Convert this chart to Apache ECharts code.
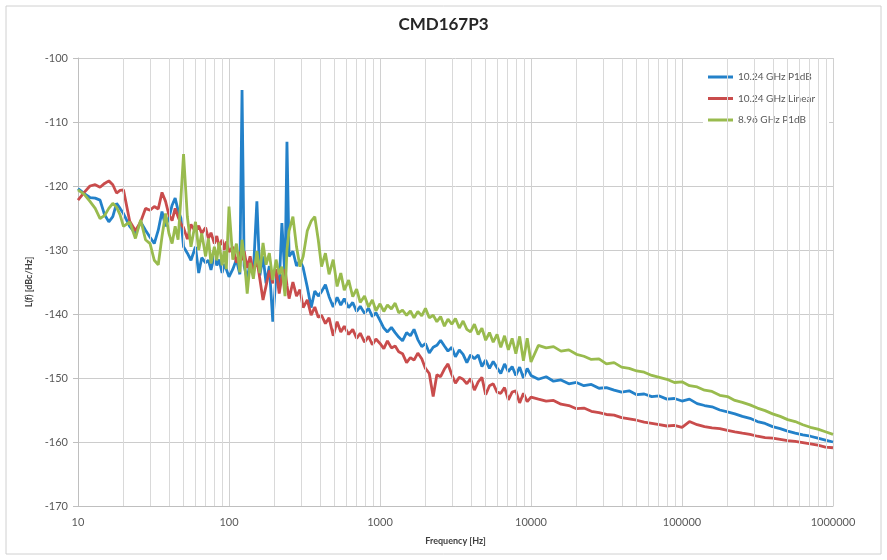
<!DOCTYPE html>
<html lang="en">
<head>
<meta charset="UTF-8">
<style>
    html, body { height: 100%; margin: 0; background: #fff; }
</style>
</head>
<body>
<div id="chart" style="width:887px;height:560px;"></div>
<script src="https://cdn.jsdelivr.net/npm/echarts@6/dist/echarts.min.js"></script>
<script>
    // frequency points [Hz], one decade per line
    var freqHz = [
        10,11,12,13,14,15,16,17,18,19,20,22,24,26,28,30,32,34,36,38,40,42,44,46,48,50,53,56,60,63,66,70,73,76,80,83,86,90,93,96,100,
        106,112,118,122,126,132,138,145,153,160,168,176,185,195,205,215,224,235,242,250,265,280,295,310,330,350,370,390,410,435,460,490,520,550,580,620,660,700,740,790,840,890,940,1000,
        1060,1120,1190,1260,1330,1410,1500,1590,1680,1780,1890,2000,2120,2250,2380,2520,2670,2820,2990,3160,3350,3550,3760,3980,4220,4470,4730,5010,5310,5620,5960,6310,6680,7080,7500,7940,8410,8910,9440,10000,
        11200,12600,14100,15800,17800,20000,22400,25100,28200,31600,35500,39800,44700,50100,56200,63100,70800,79400,89100,100000,
        112000,126000,141000,158000,178000,200000,224000,251000,282000,316000,355000,398000,447000,501000,562000,631000,708000,794000,891000,1000000
    ];

    // L(f) [dBc/Hz]
    var p1dB1024 = [
        -120.4,-121.2,-121.8,-121.9,-122.2,-124.5,-125.6,-124.8,-122.7,-123.5,-124.3,
        -126.3,-127.4,-125.6,-126.9,-128,-129,-126.9,-124,-126.3,-125,-123,-121.9,-123.8,-125,-129.5,
        -130.5,-131.6,-129.5,-133.6,-131.2,-132,-131.6,-133.1,-130.8,-132.4,-131.5,-133.6,-132.2,-133,-134.2,
        -133,-131.5,-133.8,-105,-132.5,-134.6,-131.8,-133.5,-122.4,-134,-131,-135.2,-132.5,-141.2,-133.8,
        -135.5,-125.8,-134.5,-113.1,-131,-130.2,-132.5,-131.6,-132.8,-135.8,-139,-136.4,-137.2,-136.5,-135.4,
        -137.3,-138.9,-137.4,-138.6,-137.6,-139,-138.2,-139.6,-138.8,-139.9,-139.1,-140.4,-139.8,-141,
        -142.2,-142.8,-142.1,-142.9,-143.6,-144.2,-142.9,-143.4,-142.4,-144,-145.1,-144.6,-146.1,-145.2,-144.9,
        -144.1,-145,-145.8,-145.2,-146.7,-145.6,-146.3,-147.6,-146.4,-147,-146.4,-148.2,-147.2,-148.5,-147.4,
        -148.4,-149.3,-147.8,-149,-148.2,-149.6,-148.3,-150,-148.5,-149.6,
        -150.2,-149.8,-150.5,-150.3,-150.9,-150.7,-151.2,-151,-151.6,-151.5,
        -151.9,-152.2,-152,-152.6,-152.5,-152.9,-152.8,-153.3,-153.2,-153.6,
        -153.3,-154,-154.3,-154.5,-155,-155.3,-155.6,-156,-156.3,-156.8,
        -157.1,-157.6,-157.9,-158.3,-158.6,-158.9,-159.1,-159.4,-159.7,-160
    ];
    var linear1024 = [
        -122.2,-121,-120,-119.8,-120.2,-119.6,-119.2,-119.8,-121.1,-120.7,-120.6,
        -125.5,-127,-125.6,-123.5,-123.8,-123.2,-123.6,-121,-122.4,-124.5,-125.4,-123.5,-124.8,-125.9,-126.5,
        -128.3,-126,-127.2,-126.2,-127.4,-126.5,-128.2,-127.3,-129,-127.8,-129.5,-128.4,-130,-128.7,-130.3,
        -129.5,-132,-130.3,-131.6,-130.2,-132.8,-131,-133.4,-131.5,-134.5,-137.8,-135.6,-133.2,-135.2,-133,
        -136.8,-134.2,-133,-135.5,-137.6,-135,-137.2,-136.2,-139,-137.8,-140.2,-138.9,-140.5,-140.2,-141.5,
        -140.6,-143.4,-141.2,-142.8,-141.9,-143.2,-142.4,-143.8,-143,-144.4,-143.5,-144.8,-143.9,-144.6,
        -145.4,-144.2,-145.3,-145,-145.9,-146.2,-147.6,-146.8,-147.2,-146.1,-147,-148.5,-149.3,-152.9,-149.5,
        -149.8,-148.6,-147.8,-149.5,-150.8,-149.9,-150.2,-150.9,-150.1,-151.9,-150.6,-149.9,-152.6,-151.2,-150.9,
        -152.2,-152.4,-151.5,-153.4,-152.2,-152,-153.9,-152.4,-153.7,-153,
        -153.3,-153.6,-153.5,-154.1,-154.3,-154.8,-154.7,-155.2,-155.4,-155.7,
        -155.8,-156.2,-156.4,-156.6,-156.9,-157.1,-157.3,-157.5,-157.4,-157.7,
        -156.8,-157.3,-157.6,-157.8,-157.9,-158.2,-158.4,-158.6,-158.8,-159.1,
        -159.3,-159.4,-159.6,-159.8,-159.9,-160.1,-160.3,-160.5,-160.8,-160.9
    ];
    var p1dB896 = [
        -120.6,-121.3,-122.4,-123.5,-125.1,-124.6,-123.5,-122.7,-123.3,-124.5,-126.3,
        -125.6,-128.2,-125.3,-128.4,-129,-131.6,-132.3,-127.9,-124.3,-127.4,-129,-126.3,-128.4,-122,-115,
        -124.8,-129.5,-125.6,-130,-127.4,-131,-128.2,-132.1,-129.5,-131.6,-128.8,-132.4,-130.2,-133,-123.2,
        -131.5,-129,-133.5,-128.4,-131.2,-136.8,-132,-134.5,-130.2,-133.6,-128.9,-132.3,-130.5,-134.7,-131.5,
        -133.8,-132.6,-137.2,-130,-127,-124.8,-129.5,-132.6,-131,-127,-125.5,-124.8,-128.4,-132.6,-130.5,
        -133.8,-131.5,-135.7,-133.6,-136.3,-134.7,-137.3,-136.1,-138.2,-137.2,-138.9,-137.8,-139.5,-138.4,
        -139.6,-138.6,-139.2,-138.3,-139.8,-139.4,-140.2,-139.5,-140.6,-139.6,-140.3,-139.1,-140.6,-140.2,-141.2,
        -140.4,-141.9,-140.8,-141.6,-140.7,-142.2,-141.1,-142.4,-142.8,-141.6,-143.2,-142.2,-144.1,-142.9,-144.4,
        -143.2,-145.2,-143.4,-145.6,-143.8,-146.2,-143.5,-147.3,-143.8,-147.5,
        -144.9,-145.3,-145.1,-145.8,-145.6,-146.3,-146.6,-147.1,-147,-147.8,
        -147.6,-148.3,-148.5,-148.9,-149.1,-149.6,-149.9,-150.2,-150.7,-150.6,
        -151.2,-151.4,-151.9,-152.1,-152.7,-152.9,-153.5,-153.8,-154.2,-154.7,
        -155.1,-155.6,-156,-156.5,-156.8,-157.3,-157.7,-158,-158.4,-158.8
    ];

    var seriesNames = ['10.24 GHz P1dB', '10.24 GHz Linear', '8.96 GHz P1dB'];
    var seriesColors = ['#2381c9', '#c94c4c', '#99bb4e'];
    var seriesValues = [p1dB1024, linear1024, p1dB896];

    // minor vertical grid lines (2..9 of each decade)
    var minorFreqs = [];
    [10, 100, 1000, 10000, 100000].forEach(function (d) {
        for (var k = 2; k <= 9; k++) minorFreqs.push(d * k);
    });

    var font = 'Lato';
    var myChart = echarts.init(document.getElementById('chart'));

    var series = [{
        type: 'line',
        data: [],
        silent: true,
        z: 1,
        markLine: {
            symbol: 'none',
            silent: true,
            animation: false,
            label: { show: false },
            emphasis: { disabled: true },
            lineStyle: { color: '#d9d9d9', width: 1, type: 'solid' },
            data: minorFreqs.map(function (f) { return { xAxis: f }; })
        }
    }];
    for (var s = 0; s < seriesNames.length; s++) {
        series.push({
            name: seriesNames[s],
            type: 'line',
            symbol: 'none',
            showSymbol: false,
            z: 3 + s,
            color: seriesColors[s],
            lineStyle: { width: 2.8, color: seriesColors[s] },
            emphasis: { disabled: true },
            data: freqHz.map(function (f, i) { return [f, seriesValues[s][i]]; })
        });
    }

    myChart.setOption({
        animation: false,
        backgroundColor: '#fff',
        textStyle: { fontFamily: font },
        title: {
            text: 'CMD167P3',
            left: 'center',
            top: 11,
            textStyle: { fontFamily: font, fontSize: 17, fontWeight: 'bold', color: '#262626' }
        },
        legend: {
            data: seriesNames,
            orient: 'vertical',
            left: 703,
            top: 65,
            padding: [6, 14, 6, 5],
            backgroundColor: '#fff',
            icon: 'rect',
            itemWidth: 25,
            itemHeight: 3,
            itemGap: 9.5,
            textStyle: { fontFamily: font, fontSize: 10, color: '#595959', lineHeight: 12 }
        },
        graphic: [{
            type: 'rect',
            shape: { x: 6, y: 6, width: 875, height: 548 },
            style: { fill: 'none', stroke: '#d0d0d0', lineWidth: 1 },
            silent: true
        }],
        grid: { left: 78, right: 54, top: 58, bottom: 54 },
        xAxis: {
            type: 'log',
            logBase: 10,
            min: 10,
            max: 1000000,
            name: 'Frequency [Hz]',
            nameLocation: 'middle',
            nameGap: 31,
            nameTextStyle: { fontFamily: font, fontSize: 9, fontWeight: 'bold', color: '#404040' },
            axisLine: { show: true, lineStyle: { color: '#bfbfbf' } },
            axisTick: { show: false },
            axisLabel: {
                color: '#595959', fontSize: 11, margin: 11,
                formatter: function (v) { return String(Math.round(v)); }
            },
            splitLine: { show: true, lineStyle: { color: '#d0d0d0' } }
        },
        yAxis: {
            type: 'value',
            min: -170,
            max: -100,
            interval: 10,
            name: 'L(f) [dBc/Hz]',
            nameLocation: 'middle',
            nameGap: 43,
            nameTextStyle: { fontFamily: font, fontSize: 9, fontWeight: 'bold', color: '#404040' },
            axisLine: { show: true, lineStyle: { color: '#bfbfbf' } },
            axisTick: { show: true, length: 5, lineStyle: { color: '#bfbfbf' } },
            axisLabel: { color: '#595959', fontSize: 11, margin: 10 },
            splitLine: { show: true, lineStyle: { color: '#cccccc' } }
        },
        series: series
    });
</script>
</body>
</html>
